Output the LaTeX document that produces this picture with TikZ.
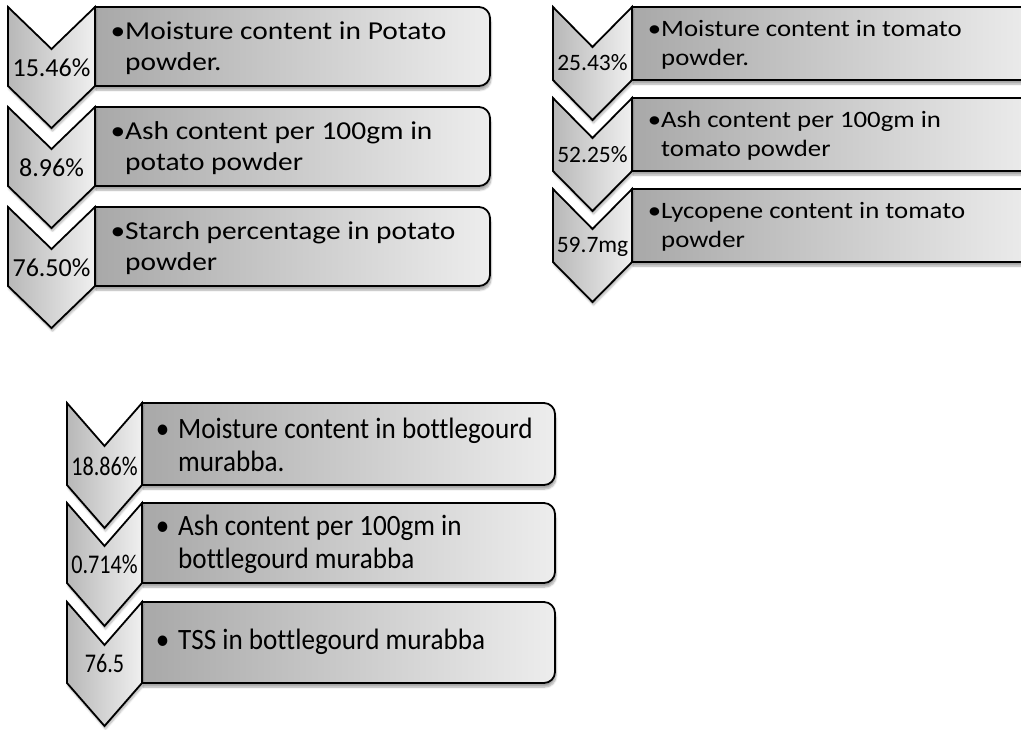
\documentclass[tikz,border=0pt]{standalone}
\usepackage{fontspec}
\setmainfont[Ligatures=NoCommon]{Carlito}
\newfontfamily\widefont[Ligatures=NoCommon, FakeStretch=1.14]{Carlito}
\newfontfamily\narrowfont[Ligatures=NoCommon, FakeStretch=0.92]{Carlito}
\newfontfamily\narrowvalue[Ligatures=NoCommon, FakeStretch=0.82]{Carlito}
\usetikzlibrary{shadows.blur}

% left, right, top, bottom of the sides, depth of the point
\newcommand{\Chevron}[5]{%
  \draw[chevron] (#1,#3) -- ({(#1+#2)/2},{#3+#5}) -- (#2,#3) -- (#2,#4)
    -- ({(#1+#2)/2},{#4+#5}) -- (#1,#4) -- cycle;}
% left, right, top, bottom
\newcommand{\Panel}[4]{%
  \draw[panel] (#1,#3) -- ({#2-11},#3) .. controls ({#2-5},#3) and (#2,{#3+5}) .. (#2,{#3+11})
    -- (#2,{#4-11}) .. controls (#2,{#4-5}) and ({#2-5},#4) .. ({#2-11},#4) -- (#1,#4) -- cycle;}

\tikzset{
  chevron/.style={draw=black, line width=1.8pt, line join=miter,
    left color=black!28, right color=black!6,
    blur shadow={shadow xshift=1pt, shadow yshift=-3pt, shadow blur steps=6, shadow opacity=30}},
  panel/.style={draw=black, line width=1.8pt,
    left color=black!34, right color=black!7,
    blur shadow={shadow xshift=1pt, shadow yshift=-4pt, shadow blur steps=6, shadow opacity=35}},
  value/.style={inner sep=0pt, anchor=base},
  entry/.style={inner sep=0pt, anchor=west, align=left},
}

\begin{document}
\begin{tikzpicture}[x=1pt, y=-1pt]
\useasboundingbox (0,0) rectangle (1021,729);
\clip (0,0) rectangle (1021,729);

% potato
\Panel{95}{490}{7}{86}
\Panel{95}{490}{107}{186}
\Panel{95}{490}{207}{286}
\Chevron{8}{95}{7}{86}{42}
\Chevron{8}{95}{107}{186}{42}
\Chevron{8}{95}{207}{286}{42}
\node[value, font=\fontsize{26}{30}\selectfont] (p1) at (51.5,76) {15.46\%};
\node[value, font=\fontsize{26}{30}\selectfont] (p2) at (51.5,176) {8.96\%};
\node[value, font=\fontsize{26}{30}\selectfont] (p3) at (51.5,276) {76.50\%};
\node[entry, font=\widefont\fontsize{25.8}{31.4}\selectfont] (pt1) at (125,48) {\llap{•}Moisture content in Potato\\powder.};
\node[entry, font=\widefont\fontsize{25.8}{31.4}\selectfont] (pt2) at (125,148) {\llap{•}Ash content per 100gm in\\potato powder};
\node[entry, font=\widefont\fontsize{25.8}{31.4}\selectfont] (pt3) at (125,248) {\llap{•}Starch percentage in potato\\powder};

% tomato
\Panel{632}{1040}{7}{80}
\Panel{632}{1040}{98}{171}
\Panel{632}{1040}{189}{262}
\Chevron{553}{632}{7}{80}{40}
\Chevron{553}{632}{98}{171}{40}
\Chevron{553}{632}{189}{262}{40}
\node[value, font=\fontsize{23.5}{28}\selectfont] (m1) at (592.5,70) {25.43\%};
\node[value, font=\fontsize{23.5}{28}\selectfont] (m2) at (592.5,162) {52.25\%};
\node[value, font=\fontsize{23.5}{28}\selectfont] (m3) at (592.5,252) {59.7mg};
\node[entry, font=\widefont\fontsize{23.5}{29}\selectfont] (mt1) at (661,44.5) {\llap{•}Moisture content in tomato\\powder.};
\node[entry, font=\widefont\fontsize{23.5}{29}\selectfont] (mt2) at (661,135.5) {\llap{•}Ash content per 100gm in\\tomato powder};
\node[entry, font=\widefont\fontsize{23.5}{29}\selectfont] (mt3) at (661,226.5) {\llap{•}Lycopene content in tomato\\powder};

% bottlegourd
\Panel{142}{555}{403}{485}
\Panel{142}{555}{503}{583}
\Panel{142}{555}{602}{683}
\Chevron{67}{142}{403}{485}{43}
\Chevron{67}{142}{503}{583}{43}
\Chevron{67}{142}{602}{683}{43}
\node[value, font=\narrowvalue\fontsize{27}{32}\selectfont] (b1) at (104.5,475) {18.86\%};
\node[value, font=\narrowvalue\fontsize{27}{32}\selectfont] (b2) at (104.5,573) {0.714\%};
\node[value, font=\narrowvalue\fontsize{27}{32}\selectfont] (b3) at (104.5,672) {76.5};
\node[entry, font=\narrowfont\fontsize{29.5}{33}\selectfont] (bt1) at (178,445) {\llap{•\hspace{0.3em}}Moisture content in bottlegourd\\murabba.};
\node[entry, font=\narrowfont\fontsize{29.5}{33}\selectfont] (bt2) at (178,544) {\llap{•\hspace{0.3em}}Ash content per 100gm in\\bottlegourd murabba};
\node[entry, font=\narrowfont\fontsize{29.5}{33}\selectfont] (bt3) at (178,641.5) {\llap{•\hspace{0.3em}}TSS in bottlegourd murabba};
\end{tikzpicture}
\end{document}
